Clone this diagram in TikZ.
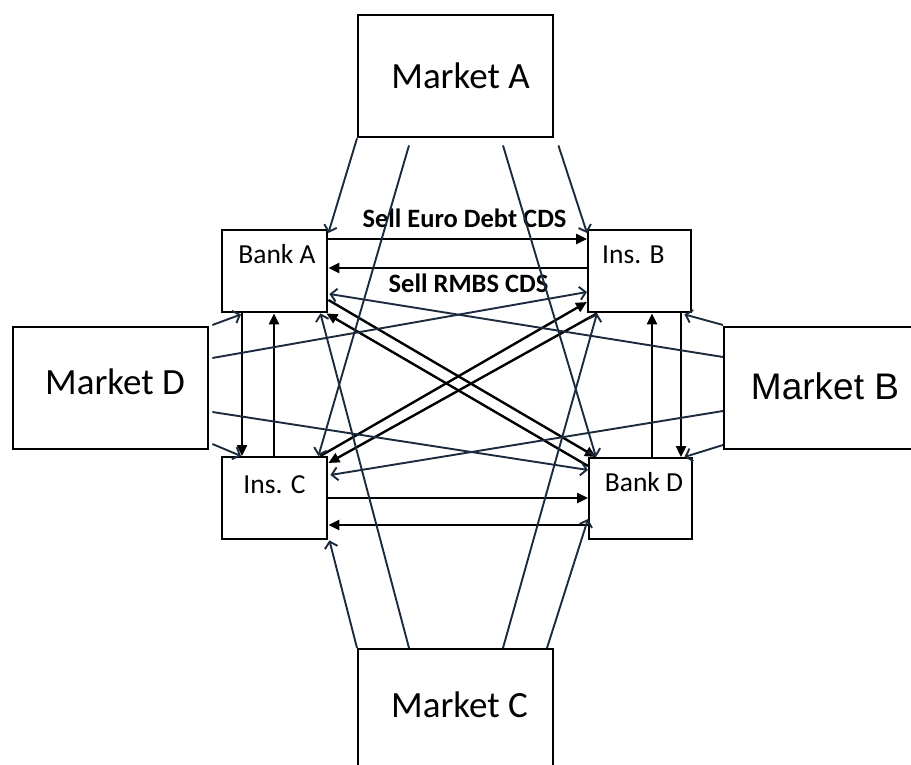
\documentclass[tikz,border=0pt]{standalone}
\usepackage{fontspec}
\setmainfont{Carlito}
\newfontfamily\arialf{Liberation Sans}
\usetikzlibrary{arrows.meta,calc}
\definecolor{navy}{HTML}{1B2A3C}
\begin{document}
\begin{tikzpicture}[x=1pt,y=-1pt,
  box/.style={draw=black,line width=2.4pt,rectangle,inner sep=0pt,anchor=north west},
  mkt/.style={font=\fontsize{37}{44}\selectfont,anchor=base,inner sep=0pt},
  inst/.style={font=\fontsize{27.5}{33}\selectfont,anchor=base,inner sep=0pt},
  lbl/.style={font=\bfseries\fontsize{26.5}{32}\selectfont,anchor=base,inner sep=0pt},
  flow/.style={draw=black,line width=2.4pt,-{Triangle[length=11pt,width=10pt]}},
  feed/.style={draw=navy,line width=1.9pt,-{Straight Barb[length=6pt,width=13pt,line width=1.9pt]}}]
\useasboundingbox (0,0) rectangle (911,765);
\clip (0,0) rectangle (911,765);
% boxes
\node[box,minimum width=195pt,minimum height=122pt] (MA) at (357,14) {};
\node[box,minimum width=195pt,minimum height=122pt] (MD) at (12,326) {};
\node[box,minimum width=240pt,minimum height=122pt] (MB) at (723,326) {};
\node[box,minimum width=195pt,minimum height=160pt] (MC) at (357,648) {};
\node[box,minimum width=105pt,minimum height=82pt] (BA) at (221,229) {};
\node[box,minimum width=103pt,minimum height=82pt] (IB) at (587,229) {};
\node[box,minimum width=105pt,minimum height=82pt] (IC) at (221,456) {};
\node[box,minimum width=103pt,minimum height=81pt] (BD) at (588,457) {};
% texts
\node[mkt] (tMA) at (460.5,89) {Market A};
\node[mkt] (tMC) at (459.5,717) {Market C};
\node[mkt] (tMD) at (115,394) {Market D};
\node[mkt,font=\arialf\fontsize{37}{44}\selectfont] (tMB) at (825,399) {Market B};
\node[inst] (tBA) at (277,263) {Bank A};
\node[inst,anchor=base west] (tIB) at (602,263) {Ins. B};
\node[inst] (tIC) at (274.5,493) {Ins. C};
\node[inst] (tBD) at (644,491) {Bank D};
\node[lbl] (l1) at (464.5,228) {Sell Euro Debt CDS};
\node[lbl] (l2) at (468.5,292) {Sell RMBS CDS};
% thick flows between institutions
\draw[flow] ([shift={(0,10)}]BA.north east) -- ([shift={(0,10)}]IB.north west);
\draw[flow] ([shift={(0,39)}]IB.north west) -- ([shift={(0,39)}]BA.north east);
\draw[flow] ([shift={(0,42)}]IC.north east) -- ([shift={(0,41)}]BD.north west);
\draw[flow] ([shift={(0,68)}]BD.north west) -- ([shift={(0,69)}]IC.north east);
\draw[flow] ([shift={(21,0)}]BA.south west) -- ([shift={(21,0)}]IC.north west);
\draw[flow] ([shift={(53,0)}]IC.north west) -- ([shift={(53,0)}]BA.south west);
\draw[flow] ([shift={(64,0)}]BD.north west) -- ([shift={(65,0)}]IB.south west);
\draw[flow] ([shift={(94,0)}]IB.south west) -- ([shift={(93,0)}]BD.north west);
\draw[flow] ([shift={(0,71)}]BA.north east) -- ([shift={(8,0)}]BD.north west);
\draw[flow] ([shift={(0,9)}]BD.north west) -- ([shift={(-2,0)}]BA.south east);
\draw[flow] ([shift={(-8,0)}]IC.north east) -- ([shift={(0,73)}]IB.north west);
\draw[flow] ([shift={(10,0)}]IB.south west) -- ([shift={(0,7)}]IC.north east);
% market feeds
\draw[feed] (MA.south west) -- ([shift={(0,4)}]BA.north east);
\draw[feed] ([shift={(52,7)}]MA.south west) -- ([shift={(-10,0)}]IC.north east);
\draw[feed] ([shift={(146,7)}]MA.south west) -- ([shift={(8,0)}]BD.north west);
\draw[feed] ([shift={(4,7)}]MA.south east) -- ([shift={(0,4)}]IB.north west);
\draw[feed] (MC.north west) -- ([shift={(1,0)}]IC.south east);
\draw[feed] ([shift={(52,0)}]MC.north west) -- ([shift={(-8,0)}]BA.south east);
\draw[feed] ([shift={(146,0)}]MC.north west) -- ([shift={(10,0)}]IB.south west);
\draw[feed] ([shift={(190,0)}]MC.north west) -- ([shift={(0,62)}]BD.north west);
\draw[feed] ([shift={(3,-1)}]MD.north east) -- ([shift={(20,1)}]BA.south west);
\draw[feed] ([shift={(3,32)}]MD.north east) -- ([shift={(0,63)}]IB.north west);
\draw[feed] ([shift={(3,86)}]MD.north east) -- ([shift={(0,13)}]BD.north west);
\draw[feed] ([shift={(3,118)}]MD.north east) -- ([shift={(20,0)}]IC.north west);
\draw[feed] ([shift={(0,-1)}]MB.north west) -- ([shift={(-8,1)}]IB.south east);
\draw[feed] ([shift={(0,31)}]MB.north west) -- ([shift={(1,65)}]BA.north east);
\draw[feed] ([shift={(0,85)}]MB.north west) -- ([shift={(2,19)}]IC.north east);
\draw[feed] ([shift={(0,119)}]MB.north west) -- ([shift={(-9,0)}]BD.north east);
\end{tikzpicture}
\end{document}
